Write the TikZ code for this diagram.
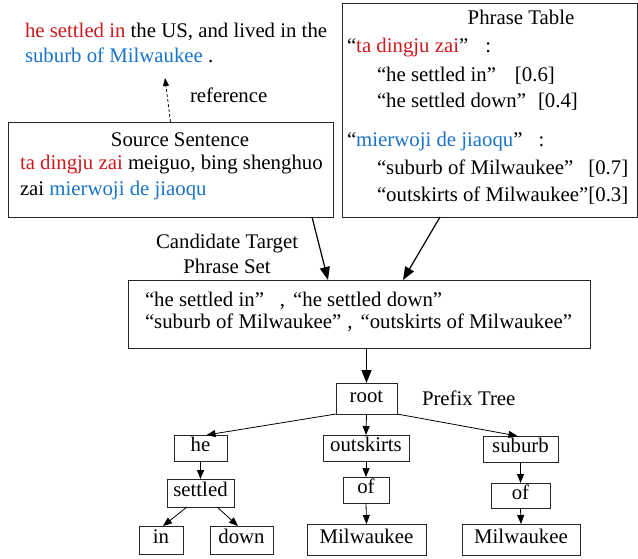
\documentclass[tikz,border=0pt]{standalone}
\usepackage{fontspec}
\setmainfont{Liberation Serif}
\usetikzlibrary{arrows.meta}
\definecolor{myred}{RGB}{205,25,30}
\definecolor{myblue}{RGB}{25,115,200}
\newcommand\rd[1]{\textcolor{myred}{#1}}
\newcommand\bl[1]{\textcolor{myblue}{#1}}
\begin{document}
\begin{tikzpicture}[x=1pt,y=-1pt,
  every node/.style={font=\fontsize{20.8}{25}\selectfont},
  box/.style={draw=black!85, line width=0.8pt, inner sep=0pt, outer sep=0pt},
  tnode/.style={box, text height=13pt, text depth=5.5pt},
  txt/.style={anchor=base west, inner sep=0pt, outer sep=0pt},
  ctxt/.style={anchor=base, inner sep=0pt, outer sep=0pt},
  bigarrow/.style={-{Triangle[length=13pt,width=10pt]}, line width=1.2pt},
  tarrow/.style={-{Triangle[length=9pt,width=7pt]}, line width=0.8pt},
  refarrow/.style={-{Triangle[length=8pt,width=6pt]}, line width=0.7pt, dash pattern=on 3pt off 2pt}]
\useasboundingbox (0,0) rectangle (638,559);

% top reference sentence
\node[txt] (r1) at (25,38) {\rd{he settled in} the US, and lived in the};
\node[txt] (r2) at (25,63) {\bl{suburb of Milwaukee} .};
\node[txt] (reflab) at (190,103) {reference};

% source sentence box
\node[box, minimum width=325pt, minimum height=95pt] (src) at (170.5,169.5) {};
\node[ctxt] (s0) at (180,147) {Source Sentence};
\node[txt] (s1) at (20,170) {\rd{ta dingju zai} meiguo, bing shenghuo};
\node[txt] (s2) at (20,196) {zai \bl{mierwoji de jiaoqu}};

% phrase table box
\node[box, minimum width=295pt, minimum height=214pt] (pt) at (489.5,110) {};
\node[ctxt] (p0) at (521,25) {Phrase Table};
\node[txt] (p1) at (347,53) {“\rd{ta dingju zai}”\hspace{17pt}:};
\node[txt] (p2) at (377,82) {“he settled in”\hspace{19pt}[0.6]};
\node[txt] (p3) at (377,108) {“he settled down”\hspace{12pt}[0.4]};
\node[txt] (p4) at (347,147) {“\bl{mierwoji de jiaoqu}”\hspace{16pt}:};
\node[txt] (p5) at (377,175) {“suburb of Milwaukee”\hspace{15pt}[0.7]};
\node[txt] (p6) at (377,202) {“outskirts of Milwaukee”[0.3]};

% candidate set
\node[ctxt] (c0) at (227,248) {Candidate Target};
\node[ctxt] (c1) at (227,273) {Phrase Set};
\node[box, minimum width=462pt, minimum height=68pt] (cand) at (359,314) {};
\node[txt] (c2) at (145,306) {“he settled in”\hspace{16pt},\hspace{8pt}“he settled down”};
\node[txt] (c3) at (145,328) {“suburb of Milwaukee”\hspace{6pt},\hspace{8pt}“outskirts of Milwaukee”};

% prefix tree
\node[tnode, minimum width=61pt, minimum height=31pt] (root) at (366.5,398.5) {root};
\node[txt] (ptree) at (422,405) {Prefix Tree};
\node[tnode, minimum width=53pt, minimum height=26pt] (he) at (200.5,448) {he};
\node[tnode, minimum width=86pt, minimum height=26pt] (outsk) at (366,448) {outskirts};
\node[tnode, minimum width=75pt, minimum height=26pt] (suburb) at (520.5,449) {suburb};
\node[tnode, minimum width=67pt, minimum height=28pt] (settled) at (200.5,493) {settled};
\node[tnode, minimum width=46pt, minimum height=26pt] (ofa) at (366,490) {of};
\node[tnode, minimum width=59pt, minimum height=25pt] (ofb) at (520.5,495.5) {of};
\node[tnode, minimum width=44pt, minimum height=28pt] (in) at (161,540) {in};
\node[tnode, minimum width=63pt, minimum height=28pt] (down) at (241.5,540) {down};
\node[tnode, minimum width=119pt, minimum height=31pt] (mila) at (366.5,539.5) {Milwaukee};
\node[tnode, minimum width=118pt, minimum height=31pt] (milb) at (521,539.5) {Milwaukee};

% connectors
\coordinate (reftip) at (165,78);
\draw[refarrow] (src.north) -- (reftip);
\draw[bigarrow] ([xshift=-21pt]src.south east) -- ([xshift=-31pt]cand.north);
\draw[bigarrow] ([xshift=-49.5pt]pt.south) -- ([xshift=44pt]cand.north);
\draw[bigarrow] (root.north |- cand.south) -- (root.north);
\draw[tarrow] (root.south west) -- ([xshift=6pt]he.north);
\draw[tarrow] (root.south) -- (outsk.north);
\draw[tarrow] (root.south east) -- ([xshift=-3pt]suburb.north);
\draw[tarrow] (he.south) -- (settled.north);
\draw[tarrow] ([xshift=-13.5pt]settled.south) -- ([xshift=2pt]in.north);
\draw[tarrow] ([xshift=16.5pt]settled.south) -- ([xshift=-3.5pt]down.north);
\draw[tarrow] (outsk.south) -- (ofa.north);
\draw[tarrow] (ofa.south) -- (mila.north);
\draw[tarrow] (suburb.south) -- (ofb.north);
\draw[tarrow] (ofb.south) -- (milb.north);
\end{tikzpicture}
\end{document}
